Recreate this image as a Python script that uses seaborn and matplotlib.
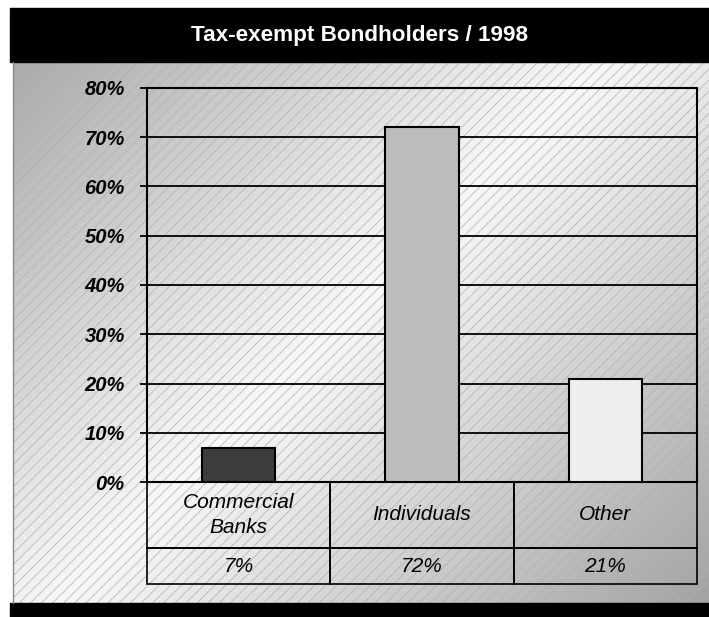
import matplotlib
matplotlib.use("Agg")
import matplotlib.pyplot as plt
import matplotlib.patches as mpatches
from matplotlib.ticker import FuncFormatter
import numpy as np
import seaborn as sns

# Data
categories = ["Commercial\nBanks", "Individuals", "Other"]
shares = [7, 72, 21]
share_labels = ["7%", "72%", "21%"]
title = "Tax-exempt Bondholders / 1998"

bar_colors = ["#3c3c3c", "#bcbcbc", "#eeeeee"]

sns.set_theme(style="white")
plt.rcParams["font.family"] = ["Liberation Sans", "DejaVu Sans"]
plt.rcParams["hatch.linewidth"] = 0.5

W, H = 709, 617
fig = plt.figure(figsize=(W / 100, H / 100), dpi=100)

# background in pixel coordinates
bg = fig.add_axes([0, 0, 1, 1], zorder=-1)
bg.set_xlim(0, W)
bg.set_ylim(H, 0)
bg.axis("off")

x0, x1, y0, y1 = 13, W, 62, 603
gx, gy = np.meshgrid(np.linspace(x0, x1, 400), np.linspace(y0, y1, 300))
t = (gx + gy) / (W + H)
shade = 0.97 - 0.34 * np.abs(t - 0.5) * 2
bg.imshow(shade, cmap="gray", vmin=0, vmax=1, extent=[x0, x1, y1, y0],
          aspect="auto", interpolation="bilinear")
bg.add_patch(mpatches.Rectangle((x0, y0), x1 - x0, y1 - y0, facecolor="none",
                                edgecolor="#b0b0b0", hatch="///", linewidth=0))
bg.plot([x0, x0], [y0, y1], color="#8a8a8a", lw=1)
bg.add_patch(mpatches.Rectangle((10, 8), W - 10, 54, color="black"))
bg.add_patch(mpatches.Rectangle((10, 603), W - 10, 14, color="black"))
bg.text((10 + W) / 2, 35, title, color="white", fontsize=16.2, fontweight="bold",
        ha="center", va="center")

# main chart
ax_left, ax_right, ax_top, ax_bottom = 147, 697, 88, 482
ax = fig.add_axes([ax_left / W, 1 - ax_bottom / H,
                   (ax_right - ax_left) / W, (ax_bottom - ax_top) / H])
ax.patch.set_alpha(0)

sns.barplot(x=categories, y=shares, hue=categories, palette=bar_colors,
            legend=False, width=0.4, edgecolor="black", linewidth=1.5,
            saturation=1, ax=ax, zorder=3)

ax.set_ylim(0, 80)
ax.set_xlim(-0.5, 2.5)
ax.set_yticks(range(0, 81, 10))
ax.yaxis.set_major_formatter(FuncFormatter(lambda v, p: f"{v:.0f}%"))
ax.yaxis.grid(True, color="black", linewidth=1.3)
ax.set_axisbelow(True)
ax.set_xticks([])
ax.set_xlabel("")
ax.set_ylabel("")
ax.tick_params(axis="y", left=True, length=5, width=1.3, color="black",
               labelcolor="black", pad=11)
for lab in ax.get_yticklabels():
    lab.set_fontsize(14.5)
    lab.set_fontweight("bold")
    lab.set_fontstyle("italic")
for sp in ax.spines.values():
    sp.set_color("black")
    sp.set_linewidth(1.5)

# data table below the axis
tbl_h = (584 - ax_bottom) / (ax_bottom - ax_top)
tbl = ax.table(cellText=[categories, share_labels], cellLoc="center",
               bbox=[0, -tbl_h, 1, tbl_h])
tbl.auto_set_font_size(False)
for (r, c), cell in tbl.get_celld().items():
    cell.set_height(66 if r == 0 else 36)
    cell.set_facecolor("none")
    cell.set_edgecolor("black")
    cell.set_linewidth(1.2)
    txt = cell.get_text()
    txt.set_fontsize(15)
    txt.set_fontstyle("italic")
    txt.set_color("black")
    txt.set_linespacing(1.45)

fig.savefig("out.png", dpi=100)
